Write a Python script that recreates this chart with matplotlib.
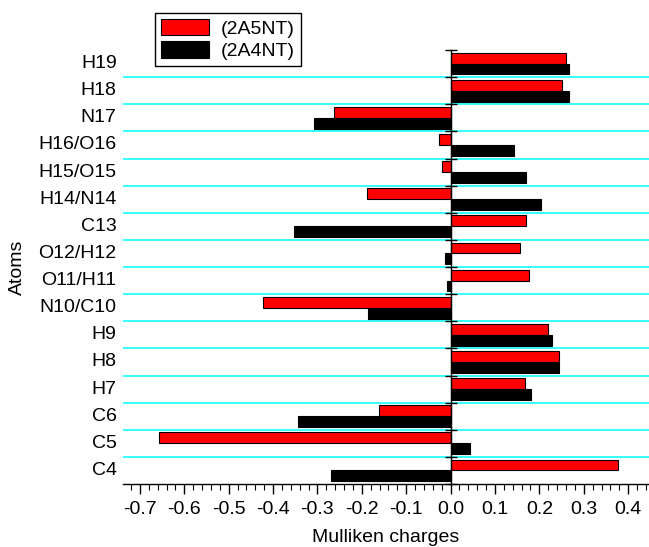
import numpy as np
import matplotlib
matplotlib.use("Agg")
import matplotlib.pyplot as plt

plt.rcParams['font.family'] = ['Liberation Sans', 'DejaVu Sans']
plt.rcParams['axes.unicode_minus'] = False

# atoms from bottom to top
atoms = ['C4', 'C5', 'C6', 'H7', 'H8', 'H9', 'N10/C10', 'O11/H11', 'O12/H12',
         'C13', 'H14/N14', 'H15/O15', 'H16/O16', 'N17', 'H18', 'H19']
charges_2a5nt = [0.378, -0.656, -0.161, 0.167, 0.245, 0.220, -0.422, 0.176, 0.157,
                 0.169, -0.189, -0.019, -0.026, -0.262, 0.250, 0.259]
charges_2a4nt = [-0.270, 0.043, -0.344, 0.181, 0.245, 0.228, -0.187, -0.008, -0.013,
                 -0.352, 0.203, 0.169, 0.143, -0.308, 0.266, 0.266]
x_ticks = [-0.7, -0.6, -0.5, -0.4, -0.3, -0.2, -0.1, 0.0, 0.1, 0.2, 0.3, 0.4]

fs = 14
fig = plt.figure(figsize=(6.49, 5.47), dpi=100)
ax = fig.add_axes([123/649, 63/547, 526/649, 434/547])

y = np.arange(len(atoms))
h = 0.4
r = ax.barh(y + h/2, charges_2a5nt, height=h, color='#ff0000', edgecolor='black',
            linewidth=0.8, label='(2A5NT)', zorder=3)
b = ax.barh(y - h/2, charges_2a4nt, height=h, color='black', edgecolor='black',
            linewidth=0.8, label='(2A4NT)', zorder=3)

# cyan separators between atoms
for yb in y[:-1] + 0.5:
    ax.axhline(yb, color='#00ffff', linewidth=1.1, zorder=1)

ax.set_xlim(-0.738, 0.447)
ax.set_ylim(-0.5, len(atoms) - 0.5)

ax.spines['top'].set_visible(False)
ax.spines['right'].set_visible(False)
ax.spines['left'].set_position(('data', 0))
ax.spines['left'].set_zorder(4)
ax.spines['left'].set_linewidth(1.0)
ax.spines['bottom'].set_linewidth(1.0)

ax.set_yticks(np.append(y - 0.5, len(atoms) - 0.5))
ax.set_yticklabels([])
ax.tick_params(axis='y', direction='inout', length=9, width=1.0)

for i, name in enumerate(atoms):
    ax.text(-0.012, i, name, transform=ax.get_yaxis_transform(), ha='right',
            va='center', fontsize=fs)

ax.set_xticks(x_ticks)
ax.set_xticklabels([f'{v:.1f}' for v in x_ticks], fontsize=fs)
ax.set_xticks(np.arange(-0.72, 0.45, 0.02), minor=True)
ax.tick_params(axis='x', which='major', direction='out', length=7, width=1.0, pad=5)
ax.tick_params(axis='x', which='minor', direction='out', length=4, width=0.8)

ax.set_xlabel('Mulliken charges', fontsize=fs, labelpad=8)
ax.text(-0.2, 0.5, 'Atoms', transform=ax.transAxes, rotation=90, ha='center',
        va='center', fontsize=fs)

leg = fig.legend(handles=[r, b], loc='upper left', bbox_to_anchor=(155/649, 1 - 13/547),
                 fontsize=fs, frameon=True, fancybox=False, edgecolor='black',
                 framealpha=1, handlelength=2.5, handleheight=0.9,
                 handletextpad=0.6, borderpad=0.3, labelspacing=0.2,
                 borderaxespad=0)
leg.get_frame().set_linewidth(1.0)

fig.savefig('out.png', dpi=100)
